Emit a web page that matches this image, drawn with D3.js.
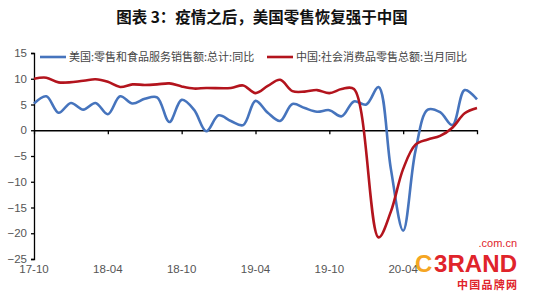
<!DOCTYPE html>
<html>
<head>
<meta charset="utf-8">
<script src="https://cdn.jsdelivr.net/npm/d3@7"></script>
<style>
    body { margin: 0; background: #fff; }
    #chart { width: 533px; height: 300px; }
</style>
</head>
<body>
<div id="chart"></div>
<script>
// monthly categories, 2017-10 .. 2020-10
const months = [
    "17-10", "17-11", "17-12", "18-01", "18-02", "18-03", "18-04", "18-05", "18-06",
    "18-07", "18-08", "18-09", "18-10", "18-11", "18-12", "19-01", "19-02", "19-03",
    "19-04", "19-05", "19-06", "19-07", "19-08", "19-09", "19-10", "19-11", "19-12",
    "20-01", "20-02", "20-03", "20-04", "20-05", "20-06", "20-07", "20-08", "20-09", "20-10"
];
// US retail & food services, yoy %
const usValues = [
    5.2, 6.6, 3.4, 5.3, 4.0, 5.3, 3.1, 6.6, 5.2,
    6.1, 6.4, 1.6, 5.9, 4.0, -0.2, 2.9, 1.8, 1.0,
    5.7, 3.4, 1.8, 5.1, 4.3, 3.6, 3.9, 2.7, 5.6,
    5.0, 8.4, -7.5, -19.5, -4.0, 4.0, 3.5, 1.0, 7.8, 6.0
];
// China retail sales of consumer goods, yoy % (no January print)
const cnValues = [
    10.0, 10.2, 9.3, null, 9.6, 9.9, 9.4, 8.4, 8.9,
    8.8, 8.9, 9.1, 8.5, 8.1, 8.2, null, 8.2, 8.7,
    7.2, 8.6, 9.8, 7.6, 7.5, 7.8, 7.2, 8.0, 8.0,
    null, -20.8, -15.8, -7.5, -2.8, -1.8, -1.1, 0.5, 3.3, 4.3
];
const tickMonths = ["17-10", "18-04", "18-10", "19-04", "19-10", "20-04", "20-10"];
const labelMonths = ["17-10", "18-04", "18-10", "19-04", "19-10", "20-04"];
const yTicks = [15, 10, 5, 0, -5, -10, -15, -20, -25];
const seriesNames = ["美国:零售和食品服务销售额:总计:同比", "中国:社会消费品零售总额:当月同比"];
const seriesColors = ["#4674BD", "#B3141D"];

const width = 533, height = 300;
const plot = { left: 34, right: 477, top: 53, bottom: 259 };

const svg = d3.select("#chart").append("svg")
    .attr("width", width)
    .attr("height", height);

const x = d3.scaleLinear().domain([0, months.length - 1]).range([plot.left, plot.right]);
const y = d3.scaleLinear().domain([-25, 15]).range([plot.bottom, plot.top]);

// title
svg.append("text")
    .attr("x", 262)
    .attr("y", 23)
    .attr("text-anchor", "middle")
    .style("font-family", "'Noto Sans CJK SC'")
    .style("font-weight", "bold")
    .style("font-size", "15.5px")
    .style("fill", "#111")
    .text("图表 3：疫情之后，美国零售恢复强于中国");

// y axis
const yAxis = svg.append("g")
    .attr("transform", "translate(" + plot.left + ",0)")
    .call(d3.axisLeft(y).tickValues(yTicks).tickSize(3).tickPadding(4));
yAxis.select(".domain").attr("stroke", "#000").attr("stroke-width", 1.3);
yAxis.selectAll(".tick line").attr("stroke", "#000").attr("stroke-width", 1.3);
yAxis.selectAll("text")
    .style("font-family", "'Liberation Sans'")
    .style("font-size", "11.5px")
    .style("fill", "#555");

// x axis on the zero line, labels at the bottom
const xAxis = svg.append("g")
    .attr("transform", "translate(0," + y(0) + ")")
    .call(d3.axisBottom(x)
        .tickValues(tickMonths.map((m) => months.indexOf(m)))
        .tickSizeInner(4)
        .tickSizeOuter(0)
        .tickFormat(""));
xAxis.select(".domain").attr("stroke", "#000").attr("stroke-width", 1.3);
xAxis.selectAll(".tick line").attr("stroke", "#000").attr("stroke-width", 1.3);

svg.append("g")
    .selectAll("text")
    .data(labelMonths)
    .enter()
    .append("text")
    .attr("x", (d) => x(months.indexOf(d)))
    .attr("y", 273)
    .attr("text-anchor", "middle")
    .style("font-family", "'Liberation Sans'")
    .style("font-size", "11.5px")
    .style("fill", "#555")
    .text((d) => d);

// lines
const line = d3.line()
    .x((d) => x(d.i))
    .y((d) => y(d.v))
    .curve(d3.curveCatmullRom.alpha(0.5));

[usValues, cnValues].forEach((vals, k) => {
    const pts = vals.map((v, i) => ({ i: i, v: v })).filter((d) => d.v !== null);
    svg.append("path")
        .datum(pts)
        .attr("d", line)
        .attr("fill", "none")
        .attr("stroke", seriesColors[k])
        .attr("stroke-width", 2.6)
        .attr("stroke-linejoin", "round");
});

// legend
const legendX = [40, 267];
seriesNames.forEach((name, k) => {
    const g = svg.append("g").attr("transform", "translate(" + legendX[k] + ",57)");
    g.append("line")
        .attr("x1", 0).attr("x2", 26)
        .attr("stroke", seriesColors[k])
        .attr("stroke-width", 2.6);
    g.append("text")
        .attr("x", 29)
        .attr("y", 4)
        .style("font-family", "'Noto Sans CJK SC'")
        .style("font-size", "11px")
        .style("fill", "#444")
        .text(name);
});

// watermark
const wm = svg.append("g").attr("transform", "translate(415,0)");
wm.append("text")
    .attr("x", 102).attr("y", 247)
    .attr("text-anchor", "end")
    .style("font-family", "'Liberation Sans'")
    .style("font-size", "11px")
    .style("fill", "#E0242B")
    .text(".com.cn");
wm.append("text")
    .attr("x", 0).attr("y", 272)
    .style("font-family", "'Liberation Sans'")
    .style("font-weight", "bold")
    .style("font-size", "24px")
    .style("fill", "#F5A623")
    .text("C");
wm.append("text")
    .attr("x", 19).attr("y", 272)
    .attr("textLength", 83)
    .style("font-family", "'Liberation Sans'")
    .style("font-weight", "bold")
    .style("font-size", "24px")
    .style("fill", "#E0242B")
    .text("3RAND");
wm.append("text")
    .attr("x", 42).attr("y", 289)
    .attr("textLength", 60)
    .style("font-family", "'Noto Sans CJK SC'")
    .style("font-weight", "bold")
    .style("font-size", "11px")
    .style("fill", "#E0242B")
    .text("中国品牌网");
</script>
</body>
</html>
